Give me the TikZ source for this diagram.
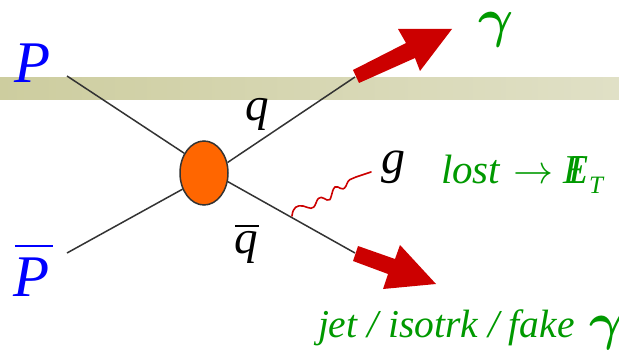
\documentclass[tikz,border=0pt]{standalone}
\usepackage{fontspec}
\setmainfont{Liberation Serif}[ItalicFont={Liberation Serif Italic},UprightFont={Liberation Serif}]
\usetikzlibrary{shapes.geometric}
\definecolor{bandL}{HTML}{CDCD9F}
\definecolor{bandR}{HTML}{E0E0C6}
\definecolor{arrred}{HTML}{CC0000}
\definecolor{grn}{HTML}{009900}
\definecolor{blobc}{HTML}{FF6600}
\definecolor{linec}{HTML}{333333}
\newcommand{\fs}[1]{\fontsize{#1pt}{#1pt}\selectfont\itshape}
\tikzset{
 x=1pt,y=-1pt,
 lbl/.style={inner sep=0pt,outer sep=0pt,anchor=base west},
 prop/.style={draw=linec,line width=1.5pt},
 fat/.style={fill=arrred,draw=none},
 barl/.style={line width=1.6pt},
}
\begin{document}
\begin{tikzpicture}
\useasboundingbox (0,0) rectangle (619,353);
\shade[left color=bandL,right color=bandR] (0,78) rectangle (619,100);
\node[lbl,blue] (P) at (14,83) {\fs{59}P};
\node[lbl,blue] (Pb) at (13,296) {\fs{59}P};
\draw[blue,barl] (15,246) -- (53,246);
\node[lbl] (q) at (245,121) {\fs{47}q};
\node[lbl] (qb) at (234,253) {\fs{47}q};
\draw[barl] (235,226) -- (259,226);
\node[lbl] (g) at (381,173) {\fs{48}g};
\node[lbl,grn] (gam) at (478,37) {\scalebox{5.4}{\boldmath$\gamma$}};
\node[lbl,grn] (lost) at (441,183) {\fs{41}lost\kern13pt\scalebox{4}{\normalsize$\rightarrow$}\kern10pt\rlap{\kern5.5pt I}E};
\node[lbl,grn] (T) at (589,193) {\fs{25}T};
\node[lbl,grn] (jet) at (318,337) {\fs{39.5}jet / isotrk / fake};
\node[lbl,grn] (gam2) at (589,339) {\scalebox{5.2}{\boldmath$\gamma$}};
\coordinate (pin) at (67,76);
\coordinate (pbin) at (67,253);
\coordinate (qout) at (355,77);
\coordinate (qbout) at (355,253);
\coordinate (gs) at (292,216);
\node[ellipse,draw=linec,fill=blobc,line width=1.5pt,minimum width=48pt,minimum height=64pt,inner sep=0pt] (blob) at (204,173) {};
\draw[prop] (pin) -- (blob.135);
\draw[prop] (pbin) -- (blob.217);
\draw[prop] (blob.24) -- (qout);
\draw[prop] (blob.-20) -- (qbout);
\draw[arrred,line width=1.6pt,line cap=round] (gs) .. controls (293,207) and (297,205) .. (303,206) .. controls (310,208) and (313,211) .. (316,203) .. controls (319,194) and (323,198) .. (327,200) .. controls (332,203) and (331,190) .. (335,187) .. controls (339,185) and (342,193) .. (346,186) .. controls (349,178) and (350,180) .. (356,177) -- (371,172);
\fill[fat] (353,70) -- (406,43) -- (398,29) -- (452,29) -- (420,71) -- (415,58) -- (359,83) -- cycle;
\fill[fat] (358,246) -- (395,259) -- (400,245) -- (436,284) -- (383,289) -- (388,274) -- (353,261) -- cycle;
\end{tikzpicture}
\end{document}
